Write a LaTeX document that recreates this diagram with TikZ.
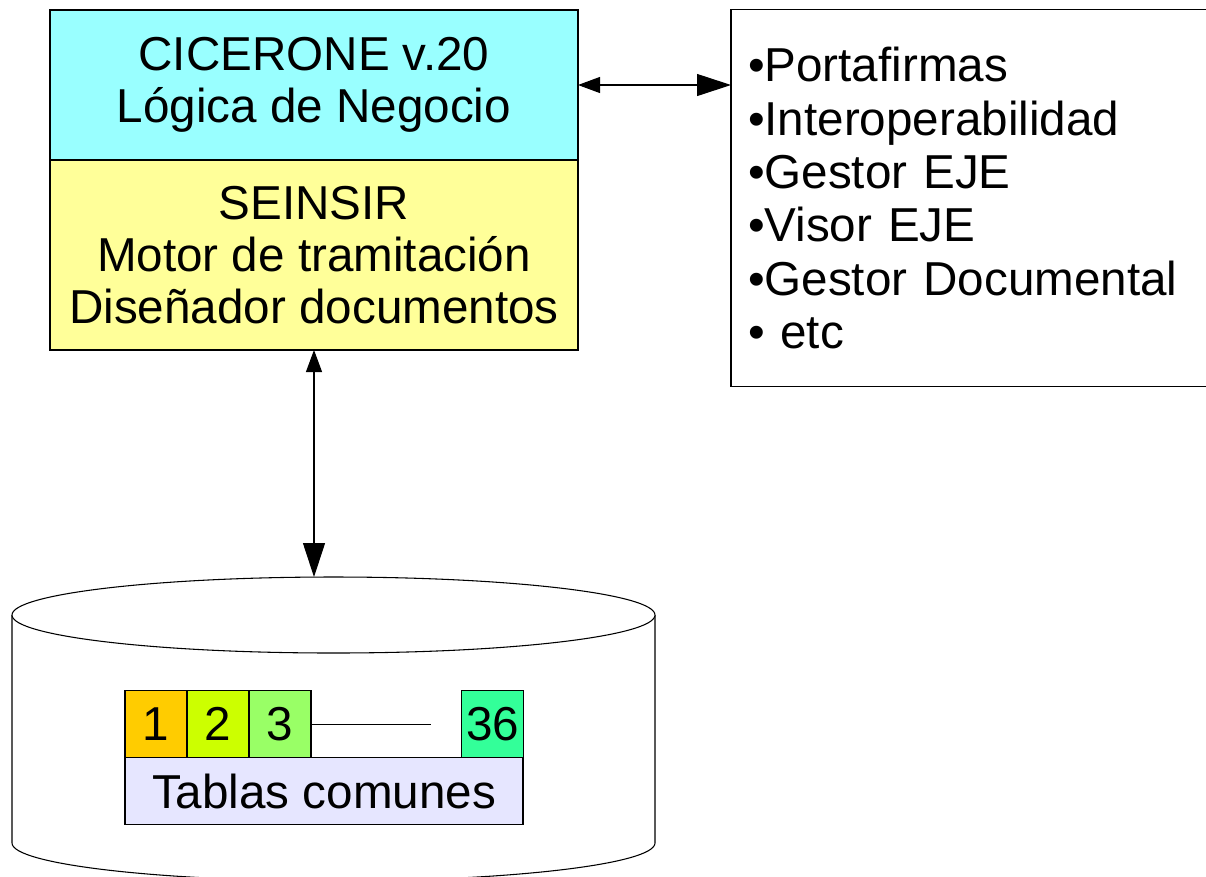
\documentclass[tikz,border=0pt]{standalone}
\usepackage{fontspec}
\setmainfont{Liberation Sans}
\usetikzlibrary{arrows.meta,positioning}
\definecolor{cicerone}{HTML}{99FFFF}
\definecolor{seinsir}{HTML}{FFFF99}
\definecolor{tabuno}{HTML}{FFCC00}
\definecolor{tabdos}{HTML}{CCFF00}
\definecolor{tabtres}{HTML}{99FF66}
\definecolor{tabult}{HTML}{33FF99}
\definecolor{tablas}{HTML}{E6E6FF}
\tikzset{
  big/.style={font=\fontsize{35.7}{39}\selectfont},
  layer/.style={draw, line width=0.8pt, outer sep=0pt, minimum width=396pt, align=center, big},
  cell/.style={draw, line width=0.8pt, outer sep=0pt, minimum width=46.5pt, minimum height=50.25pt, inner sep=0pt, big},
  dbl/.style={{Triangle[length=16.5pt,width=12pt]}-{Triangle[length=25.5pt,width=16.5pt]}, line width=0.8pt}
}
\begin{document}
\begin{tikzpicture}[x=0.75pt, y=-0.75pt]
\useasboundingbox (0,0) rectangle (1206,876);
% capas de la aplicacion
\node[layer, fill=cicerone, minimum height=112.5pt] (cic) at (314,85) {CICERONE v.20\\Lógica de Negocio};
\node[layer, fill=seinsir, minimum height=142.5pt, below=0pt of cic] (sein) {SEINSIR\\Motor de tramitación\\Diseñador documentos};

% servicios externos
\node[draw, line width=0.8pt, outer sep=0pt, text width=348.75pt, inner xsep=12.75pt, minimum height=282.75pt,
      align=left, font=\fontsize{35.7}{40}\selectfont, anchor=west] (ext) at (731,198)
  {•Portafirmas\\•Interoperabilidad\\•Gestor EJE\\•Visor EJE\\•Gestor Documental\\• etc};
\draw[dbl] (cic.east) -- (cic.east -| ext.west);

% base de datos
\draw[line width=0.8pt, fill=white] (12,615) -- (12,843) arc[start angle=180, end angle=360, x radius=241.125pt, y radius=28.5pt] -- (655,615);
\draw[line width=0.8pt, fill=white] (333.5,615) ellipse[x radius=241.125pt, y radius=28.5pt];
\coordinate (dbtop) at (315,577);
\draw[dbl] (sein.south) -- (sein.south |- dbtop);

% tablas comunes
\node[cell, fill=tabuno] (t1) at (156,724) {1};
\node[cell, fill=tabdos, right=0pt of t1] (t2) {2};
\node[cell, fill=tabtres, right=0pt of t2] (t3) {3};
\node[cell, fill=tabult] (t36) at (492.5,724) {36};
\coordinate (tfin) at (431,724);
\draw[line width=0.6pt] (t3.east) -- (tfin);
\node[cell, fill=tablas, minimum width=298.5pt, anchor=north west] (tab) at (t1.south west) {Tablas comunes};
\end{tikzpicture}
\end{document}
